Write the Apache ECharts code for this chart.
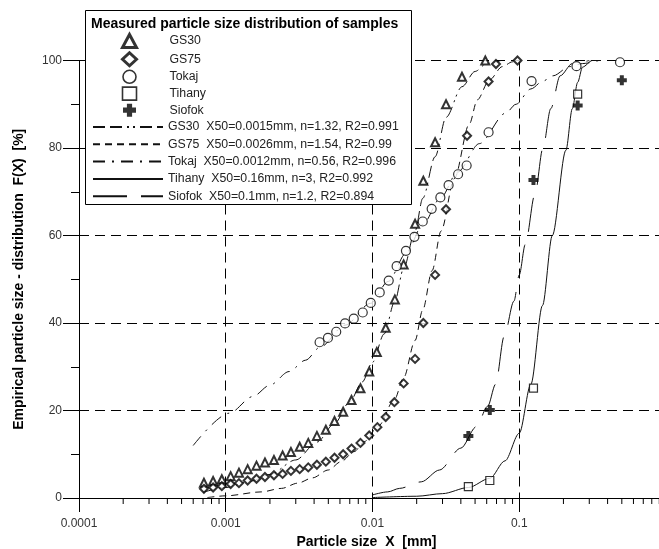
<!DOCTYPE html>
<html>
<head>
<meta charset="utf-8">
<script src="https://cdn.jsdelivr.net/npm/echarts@6/dist/echarts.min.js"></script>
<style>
  html, body { margin: 0; padding: 0; background: #fff; }
  #chart { width: 659px; height: 549px; }
</style>
</head>
<body>
<div id="chart"></div>
<script>
// measured points [size mm, F(X) %]
const gs30Points = [[0.00071, 3.5], [0.00082, 3.9], [0.00094, 4.3], [0.00108, 5.0], [0.00123, 5.8], [0.00141, 6.6], [0.00162, 7.4], [0.00185, 8.1], [0.00213, 8.7], [0.00244, 9.7], [0.00278, 10.5], [0.00319, 11.7], [0.00365, 12.6], [0.00418, 14.2], [0.00481, 15.6], [0.00551, 17.6], [0.00631, 19.7], [0.00719, 22.4], [0.00828, 25.1], [0.0095, 28.9], [0.0107, 33.4], [0.0123, 38.9], [0.0142, 45.4], [0.0163, 53.4], [0.0195, 62.7], [0.0222, 72.5], [0.0267, 81.3], [0.0317, 90.0], [0.0407, 96.3], [0.0587, 100]]
const gs75Points = [[0.00071, 2.1], [0.00082, 2.4], [0.00094, 2.7], [0.00108, 3.2], [0.00123, 3.4], [0.00141, 4.0], [0.00162, 4.4], [0.00185, 4.8], [0.00213, 5.2], [0.00244, 5.5], [0.00278, 6.2], [0.00319, 6.6], [0.00365, 7.0], [0.00418, 7.6], [0.00481, 8.3], [0.00551, 9.2], [0.00631, 10.0], [0.00719, 11.3], [0.00828, 12.6], [0.0095, 14.3], [0.0108, 16.2], [0.0123, 18.5], [0.0141, 21.9], [0.0163, 26.2], [0.0195, 31.8], [0.0222, 40.0], [0.0267, 51.0], [0.0317, 66.0], [0.0441, 82.8], [0.0618, 95.2], [0.0694, 99.2], [0.0973, 100]]
const tokajPoints = [[0.00436, 35.6], [0.00497, 36.6], [0.00566, 38.0], [0.0065, 39.9], [0.00745, 41.0], [0.00858, 42.4], [0.00973, 44.6], [0.0112, 47.0], [0.0129, 49.7], [0.0146, 53.0], [0.0169, 56.5], [0.0193, 59.7], [0.022, 63.2], [0.0253, 66.1], [0.029, 68.7], [0.033, 71.5], [0.0383, 74.0], [0.0438, 76.0], [0.0618, 83.6], [0.1213, 95.3], [0.2455, 98.7], [0.486, 99.6]]
const tihanyPoints = [[0.045, 2.6], [0.063, 4.0], [0.125, 25.1], [0.25, 92.3]]
const siofokPoints = [[0.045, 14.2], [0.063, 20.1], [0.125, 72.7], [0.25, 89.7], [0.5, 95.5]]

// fitted curves
const gs30Fit = [[0.0007, 1.3], [0.001, 2.4], [0.0015, 3.9], [0.002, 5.4], [0.003, 8.7], [0.0042, 12.8], [0.0055, 17], [0.007, 22], [0.0085, 26.5], [0.01, 31], [0.012, 37.5], [0.0142, 45], [0.0163, 52.5], [0.0195, 61], [0.022, 68.5], [0.0267, 78], [0.0317, 87], [0.0407, 94], [0.05, 97.5], [0.06, 99.3], [0.075, 100]]
const gs75Fit = [[0.00075, 0.1], [0.001, 0.5], [0.00175, 1.4], [0.0024, 2.2], [0.0031, 3.4], [0.0039, 4.6], [0.005, 6.4], [0.0061, 8.3], [0.0075, 10.6], [0.0088, 12.9], [0.011, 16.5], [0.0141, 22.5], [0.0163, 27.5], [0.0195, 36], [0.022, 43], [0.0255, 52], [0.0293, 61], [0.0361, 73], [0.0457, 85.5], [0.0518, 91], [0.0625, 95.5], [0.0766, 98.6], [0.09, 99.7], [0.1, 100]]
const tokajFit = [[0.0006, 12], [0.00106, 19.4], [0.00153, 23.2], [0.002, 25.8], [0.0027, 28.9], [0.0035, 31.5], [0.0044, 34.5], [0.0065, 39.5], [0.0097, 44.5], [0.0128, 49.5], [0.017, 56], [0.022, 62.5], [0.029, 68.5], [0.038, 74.5], [0.0535, 81], [0.081, 88], [0.095, 90], [0.12, 93.5], [0.145, 95.3], [0.17, 96.5], [0.22, 98.6], [0.27, 99.3], [0.35, 100]]
const tihanyFit = [[0.01, 0.1], [0.02, 0.4], [0.03, 1.0], [0.045, 2.4], [0.063, 4.5], [0.08, 8.5], [0.1, 14.8], [0.12, 26], [0.144, 44], [0.168, 60], [0.208, 79.5], [0.23, 89], [0.25, 95], [0.27, 98.5], [0.315, 100], [0.36, 100]]
const siofokFit = [[0.01, 0.7], [0.0127, 1.4], [0.0153, 2.2], [0.0215, 3.7], [0.0286, 6.4], [0.04, 11.4], [0.051, 16.3], [0.061, 21], [0.069, 26], [0.079, 37], [0.092, 45], [0.1, 51], [0.11, 58], [0.128, 69.5], [0.145, 80], [0.164, 89], [0.19, 96.5], [0.23, 99.3], [0.3, 100]]

const sampleNames = ['GS30', 'GS75', 'Tokaj', 'Tihany', 'Siofok']
const fitNames = [
  'GS30  X50=0.0015mm, n=1.32, R2=0.991',
  'GS75  X50=0.0026mm, n=1.54, R2=0.99',
  'Tokaj  X50=0.0012mm, n=0.56, R2=0.996',
  'Tihany  X50=0.16mm, n=3, R2=0.992',
  'Siofok  X50=0.1mm, n=1.2, R2=0.894'
]
const xMinorTicks = [0.0002, 0.0003, 0.0004, 0.0005, 0.0006, 0.0007, 0.0008, 0.0009,
  0.002, 0.003, 0.004, 0.005, 0.006, 0.007, 0.008, 0.009,
  0.02, 0.03, 0.04, 0.05, 0.06, 0.07, 0.08, 0.09,
  0.2, 0.3, 0.4, 0.5, 0.6, 0.7, 0.8, 0.9]

const font = "'Liberation Sans', Arial, sans-serif"
const plusPath = 'path://M3,0h4v3h3v4h-3v3h-4v-3h-3v-4h3z'
const legendBorder = [3, 3, 1.6, 1.6, 0]

function scatter (name, data, symbol, size, border, fill) {
  return {
    name: name,
    type: 'scatter',
    data: data,
    symbol: symbol,
    symbolSize: size,
    z: 5,
    itemStyle: { color: fill, borderColor: '#000', borderWidth: border }
  }
}

function fit (name, data, dash) {
  return {
    name: name,
    type: 'line',
    data: data,
    showSymbol: false,
    symbol: 'none',
    smooth: 0.3,
    smoothMonotone: 'x',
    z: 3,
    itemStyle: { color: '#111' },
    lineStyle: { color: '#111', width: 1, type: dash }
  }
}

const chart = echarts.init(document.getElementById('chart'))
chart.setOption({
  animation: false,
  title: {
    text: 'Measured particle size distribution of samples',
    left: 91,
    top: 17,
    padding: 0,
    textStyle: { fontFamily: font, fontSize: 14, fontWeight: 'bold', color: '#000' }
  },
  graphic: {
    elements: [{
      type: 'rect',
      z: 3,
      shape: { x: 85.5, y: 10.5, width: 326, height: 194 },
      style: { fill: '#fff', stroke: '#000', lineWidth: 1 }
    }]
  },
  legend: [
    {
      orient: 'vertical',
      left: 121,
      top: 33,
      padding: 0,
      itemWidth: 14,
      itemHeight: 13,
      itemGap: 2.25,
      selectedMode: false,
      z: 6,
      textStyle: { fontFamily: font, fontSize: 12.3, lineHeight: 14, color: '#222', padding: [0, 0, 0, 28] },
      data: sampleNames.map((n, i) => ({ name: n, itemStyle: { borderWidth: legendBorder[i] } }))
    },
    {
      orient: 'vertical',
      left: 92,
      top: 120,
      padding: 0,
      itemWidth: 70,
      itemHeight: 14,
      itemGap: 3.3,
      selectedMode: false,
      z: 6,
      textStyle: { fontFamily: font, fontSize: 12.3, lineHeight: 14, color: '#222' },
      data: fitNames.map(n => ({ name: n, itemStyle: { opacity: 0 } }))
    }
  ],
  grid: { left: 79, right: -7, top: 60.5, bottom: 51, outerBoundsMode: 'none' },
  xAxis: {
    type: 'log',
    logBase: 10,
    min: 0.0001,
    max: 1,
    name: 'Particle size  X  [mm]',
    nameLocation: 'middle',
    nameGap: 35,
    nameTextStyle: { fontFamily: font, fontSize: 14, fontWeight: 'bold', color: '#000', padding: [0, 12, 0, 0] },
    axisLine: { lineStyle: { color: '#000', width: 1 } },
    axisTick: { length: 14, lineStyle: { color: '#000' } },
    axisLabel: {
      margin: 20,
      fontFamily: font,
      fontSize: 12,
      color: '#333',
      showMaxLabel: false,
      formatter: v => String(+(+v).toPrecision(1))
    },
    splitLine: { show: true, lineStyle: { color: '#000', width: 1, type: [10, 6] } }
  },
  yAxis: {
    type: 'value',
    min: 0,
    max: 100,
    interval: 20,
    name: 'Empirical particle size - distribution  F(X)  [%]',
    nameLocation: 'middle',
    nameGap: 53,
    nameTextStyle: { fontFamily: font, fontSize: 14, fontWeight: 'bold', color: '#000' },
    axisLine: { show: true, lineStyle: { color: '#000', width: 1 } },
    axisTick: { show: true, length: 16, lineStyle: { color: '#000' } },
    minorTick: { show: true, splitNumber: 2, length: 8, lineStyle: { color: '#000' } },
    axisLabel: { margin: 17, fontFamily: font, fontSize: 12, color: '#333' },
    splitLine: { show: true, lineStyle: { color: '#000', width: 1, type: [10, 6] } }
  },
  series: [
    {
      type: 'custom',
      silent: true,
      z: 1,
      data: xMinorTicks.map(v => [v, 0]),
      renderItem: (params, api) => {
        const p = api.coord([api.value(0), 0])
        return {
          type: 'line',
          shape: { x1: p[0], y1: p[1], x2: p[0], y2: p[1] + 6 },
          style: { stroke: '#000', lineWidth: 1 }
        }
      }
    },
    fit(fitNames[0], gs30Fit, [12, 5, 12, 5, 2, 4, 2, 5]),
    fit(fitNames[1], gs75Fit, [7, 5]),
    fit(fitNames[2], tokajFit, [12, 7, 2, 7]),
    fit(fitNames[3], tihanyFit, 'solid'),
    fit(fitNames[4], siofokFit, [34, 14]),
    scatter('GS30', gs30Points, 'triangle', 8, 2, '#fff'),
    scatter('GS75', gs75Points, 'diamond', 8, 2, '#fff'),
    scatter('Tokaj', tokajPoints, 'circle', 9, 1.2, '#fff'),
    scatter('Tihany', tihanyPoints, 'rect', 8, 1.2, '#fff'),
    scatter('Siofok', siofokPoints, plusPath, 10, 0, '#000')
  ]
})
</script>
</body>
</html>
